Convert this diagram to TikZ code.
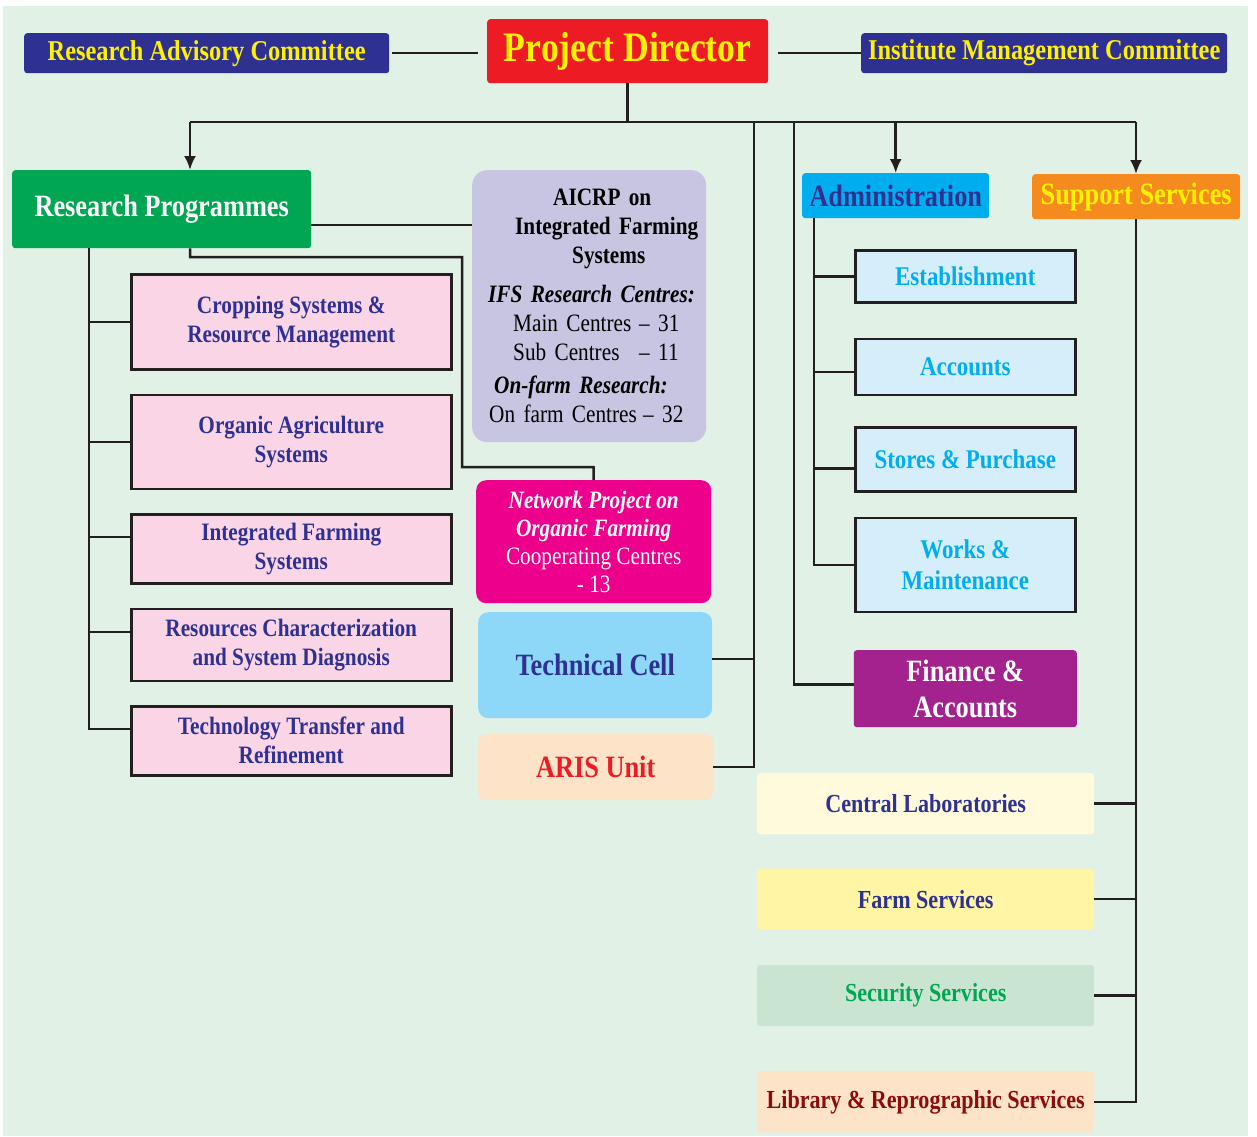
\documentclass[tikz,border=0pt]{standalone}
\usepackage{fontspec}
\setmainfont{Liberation Serif}[FakeStretch=0.85]
\usepackage{tikz}
\usetikzlibrary{positioning}
\usetikzlibrary{arrows.meta, calc}
\usepackage{xcolor}
\definecolor{bgreen}{HTML}{E2F1E6}
\definecolor{linegray}{HTML}{231F20}
\definecolor{navy}{HTML}{2E3192}
\definecolor{pdred}{HTML}{ED1C24}
\definecolor{ylw}{HTML}{FFF200}
\definecolor{rpgreen}{HTML}{00A651}
\definecolor{pinkfill}{HTML}{F9D5E5}
\definecolor{lavender}{HTML}{C8C5E2}
\definecolor{magenta}{HTML}{EC008C}
\definecolor{tcblue}{HTML}{8DD8F8}
\definecolor{peach}{HTML}{FDE3C8}
\definecolor{adminblue}{HTML}{00AEEF}
\definecolor{orange}{HTML}{F58A1F}
\definecolor{paleblue}{HTML}{D6EEF9}
\definecolor{purple}{HTML}{A3228D}
\definecolor{cream}{HTML}{FFFADC}
\definecolor{lemon}{HTML}{FFF5A5}
\definecolor{palegreen}{HTML}{C9E5D2}
\definecolor{darkred}{HTML}{8E0B0B}

\begin{document}
\begin{tikzpicture}[
            x=1pt, y=-1pt,
            node distance=23pt,
            box/.style={
                rectangle,
                rounded corners=3pt,
                fill=#1,
                inner sep=0pt,
                align=center
            },
            framed/.style={
                rectangle,
                draw=linegray,
                line width=2.5pt,
                fill=#1,
                inner sep=0pt,
                align=center
            },
            link/.style={draw=linegray, line width=2.5pt},
            arrow/.style={link, -{Latex[length=14pt,width=12pt]}},
            big/.style={font=\bfseries\fontsize{31}{36}\selectfont},
            committee/.style={text=ylw, font=\bfseries\fontsize{28.7}{32}\selectfont},
            prog/.style={text=navy, font=\bfseries\fontsize{25}{29}\selectfont},
            section/.style={text=adminblue, font=\bfseries\fontsize{27}{31}\selectfont},
            service/.style={font=\bfseries\fontsize{26}{30}\selectfont}
        ]

            \useasboundingbox (0,0) rectangle (1257,1136);
            \fill[bgreen] (3,6) rectangle (1248,1136);

            % Top row
            \node[box=navy, committee, anchor=north west, minimum width=365pt, minimum height=40pt] (rac) at (24,33) {Research Advisory Committee};
            \node[box=pdred, text=ylw, font=\bfseries\fontsize{42}{46}\selectfont, anchor=north west, minimum width=281pt, minimum height=64pt] (pd) at (487,19) {Project Director};
            \node[box=navy, committee, anchor=north west, minimum width=366pt, minimum height=40pt] (imc) at (861,33) {Institute Management Committee};

            % Research side
            \node[box=rpgreen, big, text=white, anchor=north west, minimum width=299pt, minimum height=78pt] (rp) at (12,170) {Research Programmes};
            \node[framed=pinkfill, prog, anchor=north west, minimum width=320pt, minimum height=95pt] (csrm) at (130,273) {Cropping Systems \&\\Resource Management};
            \node[framed=pinkfill, prog, below=of csrm, minimum width=320pt, minimum height=94pt] (oas) {Organic Agriculture\\Systems};
            \node[framed=pinkfill, prog, below=of oas, minimum width=320pt, minimum height=69pt] (ifs) {Integrated Farming\\Systems};
            \node[framed=pinkfill, prog, below=of ifs, minimum width=320pt, minimum height=72pt] (rcsd) {Resources Characterization\\and System Diagnosis};
            \node[framed=pinkfill, prog, below=of rcsd, minimum width=320pt, minimum height=69pt] (tt) {Technology Transfer and\\Refinement};

            % Middle column
            \node[box=lavender, rounded corners=15pt, anchor=north west, minimum width=234pt, minimum height=272pt,
                  text width=234pt, align=left, font=\fontsize{25}{29}\selectfont] (aicrp) at (472,170) {
                \hspace*{81pt}\textbf{AICRP on}\\
                \hspace*{43pt}\textbf{Integrated Farming}\\
                \hspace*{100pt}\textbf{Systems}\\[10pt]
                \hspace*{16pt}\textbf{\itshape IFS Research Centres:}\\
                \hspace*{41pt}\makebox[126pt][l]{Main Centres}-- 31\\
                \hspace*{41pt}\makebox[126pt][l]{Sub Centres}-- 11\\[4pt]
                \hspace*{22pt}\textbf{\itshape On-farm Research:}\\
                \hspace*{17pt}\makebox[154pt][l]{On farm Centres}-- 32\\[-4pt]
            };
            \node[box=magenta, rounded corners=10pt, text=white, anchor=north west, minimum width=235pt, minimum height=123pt,
                  font=\fontsize{25}{28}\selectfont] (npof) at (476,480) {
                \textbf{\itshape Network Project on}\\
                \textbf{\itshape Organic Farming}\\
                Cooperating Centres\\
                - 13
            };
            \node[box=tcblue, rounded corners=10pt, big, text=navy, anchor=north west, minimum width=234pt, minimum height=106pt] (tc) at (478,612) {Technical Cell};
            \node[box=peach, rounded corners=8pt, big, text=pdred, anchor=north west, minimum width=235pt, minimum height=66pt] (aris) at (478,734) {ARIS Unit};

            % Administration side
            \node[box=adminblue, big, text=navy, anchor=north west, minimum width=187pt, minimum height=45pt] (admin) at (802,173) {Administration};
            \node[framed=paleblue, section, anchor=north west, minimum width=220pt, minimum height=52pt] (est) at (854,249) {Establishment};
            \node[framed=paleblue, section, below=34pt of est, minimum width=220pt, minimum height=56pt] (acc) {Accounts};
            \node[framed=paleblue, section, below=30pt of acc, minimum width=220pt, minimum height=64pt] (stores) {Stores \& Purchase};
            \node[framed=paleblue, section, below=24pt of stores, minimum width=220pt, minimum height=94pt] (works) {Works \&\\Maintenance};
            \node[box=purple, big, text=white, below=37pt of works, minimum width=223pt, minimum height=77pt] (fin) {Finance \&\\Accounts};

            % Support side
            \node[box=orange, big, text=ylw, anchor=north west, minimum width=208pt, minimum height=45pt] (support) at (1032,174) {Support Services};
            \node[box=cream, service, text=navy, anchor=north west, minimum width=337pt, minimum height=61pt] (cl) at (757,773) {Central Laboratories};
            \node[box=lemon, service, text=navy, below=34pt of cl, minimum width=337pt, minimum height=61pt] (fs) {Farm Services};
            \node[box=palegreen, service, text=rpgreen, below=35pt of fs, minimum width=337pt, minimum height=61pt] (ss) {Security Services};
            \node[box=peach, service, text=darkred, below=45pt of ss, minimum width=337pt, minimum height=61pt] (lib) {Library \& Reprographic Services};

            % Junctions
            \coordinate (bl) at (190,122);
            \coordinate (br) at (1136,122);
            \coordinate (tcx) at (754,122);
            \coordinate (finx) at (794,122);
            \coordinate (lt) at (89,248);
            \coordinate (at) at (814,218);
            \coordinate (jog1) at (462,257);
            \coordinate (jog2) at (593.5,467);
            \coordinate (rpa) at ($(rp.east)+(0,16)$);
            \coordinate (ifsb) at ($(ifs.west)+(0,-12)$);
            \coordinate (rcsdb) at ($(rcsd.west)+(0,-13)$);
            \coordinate (ttb) at ($(tt.west)+(0,-12)$);
            \coordinate (accb) at ($(acc.west)+(0,5)$);
            \coordinate (storesb) at ($(stores.west)+(0,9)$);
            \coordinate (tcb) at ($(tc.east)+(0,-6)$);
            \coordinate (finb) at ($(fin.west)+(0,-4)$);

            % Lines
            \draw[link, shorten <=3pt, shorten >=9pt] (rac.east) -- (rac.east -| pd.west);
            \draw[link, shorten <=10pt] (pd.east |- imc.west) -- (imc.west);
            \draw[link] (pd.south) -- (pd.south |- bl);
            \draw[link] (bl) -- (br);
            \draw[arrow] (bl) -- (bl |- rp.north);
            \draw[arrow] (admin.north |- bl) -- (admin.north);
            \draw[arrow] (br) -- (br |- support.north);

            \draw[link] (rpa) -- (rpa -| aicrp.west);
            \draw[link] (bl |- rp.south) |- (jog1) |- (jog2) -- (npof.north);

            \draw[link] (lt) |- (ttb);
            \foreach \n in {csrm.west, oas.west, ifsb, rcsdb}
                \draw[link] (lt |- \n) -- (\n);

            \draw[link] (tcx) |- (aris.east);
            \draw[link] (tcb) -- (tcb -| tcx);
            \draw[link] (finx) |- (finb);

            \draw[link] (at) |- (works.west);
            \foreach \n in {est.west, accb, storesb}
                \draw[link] (at |- \n) -- (\n);

            \draw[link] (support.south) |- (lib.east);
            \foreach \n in {cl, fs, ss}
                \draw[link] (\n.east) -- (\n.east -| support.south);
        \end{tikzpicture}
\end{document}
